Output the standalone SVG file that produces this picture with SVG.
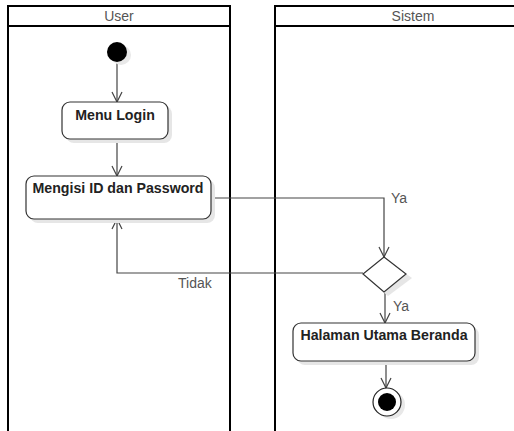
<svg xmlns="http://www.w3.org/2000/svg" width="514" height="431" viewBox="0 0 514 431">
<defs>
<style>
.lane{fill:none;stroke:#000;stroke-width:2}
.hdr{font-family:"Liberation Sans",Arial,sans-serif;font-size:14px;fill:#555;text-anchor:middle}
.act{fill:#fff;stroke:#333;stroke-width:1.2}
.shadow{fill:#e6e6e6;stroke:none}
.lbl{font-family:"Liberation Sans",Arial,sans-serif;font-size:14.2px;font-weight:bold;fill:#222;text-anchor:middle}
.edge{fill:none;stroke:#444;stroke-width:1.2}
.elbl{font-family:"Liberation Sans",Arial,sans-serif;font-size:14px;fill:#555}
</style>
<marker id="arr" viewBox="0 0 12 12" refX="11" refY="6" markerWidth="12" markerHeight="12" markerUnits="userSpaceOnUse" orient="auto">
<path d="M1,1 L11,6 L1,11" fill="none" stroke="#444" stroke-width="1.2"/>
</marker>
</defs>
<rect width="514" height="431" fill="#fff"/>
<g id="lane-user">
<path class="lane" d="M8,440 V6 H230 V440 M8,26 H230"/>
<text class="hdr" x="119" y="21">User</text>
</g>
<g id="lane-sistem">
<path class="lane" d="M275,440 V6 H520 M275,26 H520"/>
<text class="hdr" x="413" y="21">Sistem</text>
</g>
<g id="connectors">
<path class="edge" d="M117,62 V102" marker-end="url(#arr)"/>
<path class="edge" d="M117,139 V176" marker-end="url(#arr)"/>
<path class="edge" d="M211,198 H384 V257" marker-end="url(#arr)"/>
<text class="elbl" x="391" y="203">Ya</text>
<path class="edge" d="M363,273 H117 V219" marker-end="url(#arr)"/>
<text class="elbl" x="178" y="288">Tidak</text>
<path class="edge" d="M385,292 V323" marker-end="url(#arr)"/>
<text class="elbl" x="393" y="311">Ya</text>
<path class="edge" d="M386,361 V388" marker-end="url(#arr)"/>
</g>
<g id="start">
<circle cx="121" cy="55" r="10" fill="#e8e8e8"/>
<circle cx="117" cy="52" r="10" fill="#000"/>
</g>
<g id="menu-login">
<rect class="shadow" x="66" y="106" width="106" height="37" rx="8"/>
<rect class="act" x="62" y="102" width="106" height="37" rx="8"/>
<text class="lbl" x="115" y="120">Menu Login</text>
</g>
<g id="mengisi">
<rect class="shadow" x="30" y="180" width="185" height="43" rx="8"/>
<rect class="act" x="26" y="176" width="185" height="43" rx="8"/>
<text class="lbl" x="118" y="193">Mengisi ID dan Password</text>
</g>
<g id="decision">
<polygon class="shadow" points="388,261 412,278 388,296 367,278"/>
<polygon class="act" points="384,257 406,274 384,292 363,274"/>
</g>
<g id="halaman">
<rect class="shadow" x="297" y="327" width="182" height="38" rx="8"/>
<rect class="act" x="293" y="323" width="182" height="38" rx="8"/>
<text class="lbl" x="384" y="340">Halaman Utama Beranda</text>
</g>
<g id="end">
<circle cx="391" cy="405" r="14" fill="#e8e8e8"/>
<circle cx="387" cy="402" r="14" fill="#fff" stroke="#222" stroke-width="1.2"/>
<circle cx="387" cy="402" r="9" fill="#000"/>
</g>
</svg>
